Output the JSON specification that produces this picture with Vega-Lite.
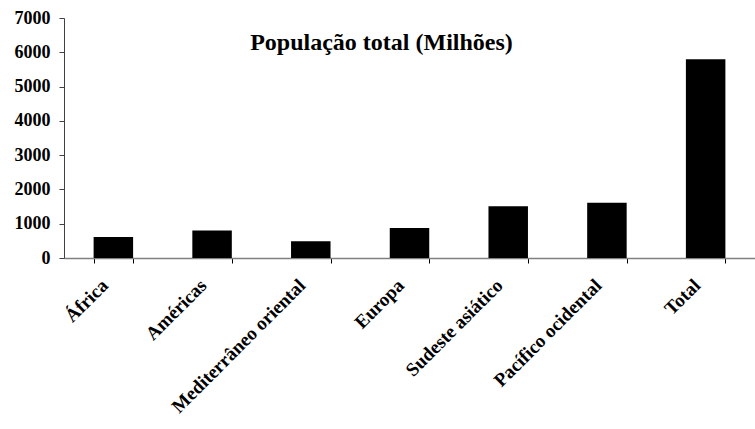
{
  "$schema": "https://vega.github.io/schema/vega-lite/v6.json",
  "width": 691,
  "height": 240,
  "autosize": {"type": "none"},
  "padding": {"left": 64, "top": 18, "right": 0, "bottom": 171},
  "background": "white",
  "title": {
    "text": "População total (Milhões)",
    "font": "Liberation Serif",
    "fontSize": 24,
    "fontWeight": "bold",
    "color": "black",
    "anchor": "middle",
    "dx": -28,
    "offset": -46
  },
  "data": {
    "values": [
      {"regiao": "África", "pop": 612},
      {"regiao": "Américas", "pop": 800},
      {"regiao": "Mediterrâneo oriental", "pop": 487},
      {"regiao": "Europa", "pop": 875},
      {"regiao": "Sudeste asiático", "pop": 1507},
      {"regiao": "Pacífico ocidental", "pop": 1614},
      {"regiao": "Total", "pop": 5795}
    ]
  },
  "mark": {"type": "bar", "color": "black"},
  "encoding": {
    "x": {
      "field": "regiao",
      "type": "nominal",
      "sort": null,
      "scale": {"paddingInner": 0.6, "paddingOuter": 0.3},
      "axis": {
        "title": null,
        "tickBand": "extent",
        "labelAngle": -45,
        "labelAlign": "right",
        "labelBaseline": "middle",
        "labelPadding": 19,
        "labelOffset": -9,
        "labelFont": "Liberation Serif",
        "labelFontWeight": "bold",
        "labelFontSize": 19,
        "labelColor": "black",
        "domainColor": "#808080",
        "domainWidth": 1.5,
        "tickColor": "black",
        "tickSize": 5,
        "grid": false
      }
    },
    "y": {
      "field": "pop",
      "type": "quantitative",
      "scale": {"domain": [0, 7000], "nice": false},
      "axis": {
        "title": null,
        "format": "d",
        "values": [0, 1000, 2000, 3000, 4000, 5000, 6000, 7000],
        "labelFont": "Liberation Serif",
        "labelFontWeight": "bold",
        "labelFontSize": 18,
        "labelColor": "black",
        "labelPadding": 9,
        "domainColor": "#404040",
        "tickColor": "#404040",
        "tickSize": 5,
        "grid": false
      }
    }
  },
  "config": {"view": {"stroke": null}, "axis": {"labelFont": "Liberation Serif"}}
}
